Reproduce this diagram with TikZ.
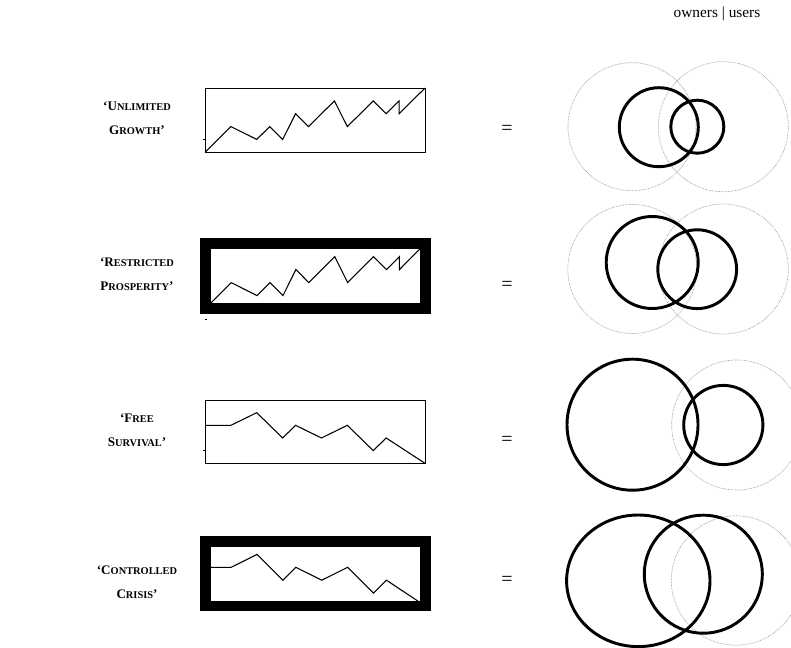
\documentclass[tikz,border=0pt]{standalone}
\usepackage{fontspec}
\setmainfont{Liberation Serif}
\usetikzlibrary{positioning}
\newcommand{\initial}[1]{{\fontsize{9.8}{12}\selectfont #1}}
\newcommand{\growthline}{\draw[chartline] (0,0) -- (2,2) -- (4,1) -- (5,2) -- (6,1) -- (7,3) -- (8,2)
  -- (10,4) -- (11,2) -- (13,4) -- (14,3) -- (15,4) -- (15,3) -- (17,5);}
\newcommand{\declineline}{\draw[chartline] (0,3) -- (2,3) -- (4,4) -- (6,2) -- (7,3) -- (9,2)
  -- (11,3) -- (13,1) -- (14,2) -- (17,0);}

\begin{document}
\begin{tikzpicture}[x=0.75pt,y=-0.75pt,
  rowlabel/.style={align=center,font=\bfseries\fontsize{7.8}{18}\selectfont},
  equals/.style={font=\fontsize{15}{16}\selectfont},
  chartline/.style={line width=0.8pt},
  openbox/.style={draw,line width=0.6pt},
  closedbox/.style={draw,line width=7.9pt},
  tick/.style={line width=0.8pt},
  owners/.style={line width=2.2pt},
  ghost/.style={draw=gray!75,line width=0.5pt,dash pattern=on 0.5pt off 0.6pt}]
\useasboundingbox (0,0) rectangle (791,648);

% heading over the circles
\node[font=\fontsize{11.5}{13}\selectfont] (head) at (717,14) {owners | users};

% the four scenarios
\node[rowlabel] (growth) at (137,118) {\initial{‘U}NLIMITED\\\initial{G}ROWTH\initial{’}};
\node[rowlabel] (prosper) at (137,274) {\initial{‘R}ESTRICTED\\\initial{P}ROSPERITY\initial{’}};
\node[rowlabel] (survive) at (137,430) {\initial{‘F}REE\\\initial{S}URVIVAL\initial{’}};
\node[rowlabel] (crisis) at (137,582) {\initial{‘C}ONTROLLED\\\initial{C}RISIS\initial{’}};

% charts
\begin{scope}[shift={(205,152.3)},xscale=12.94,yscale=-12.85]
  \growthline
  \draw[openbox] (0,0) rectangle (17,5);
  \draw[tick] (-0.15,1) -- (0,1);
\end{scope}
\begin{scope}[shift={(205.3,308.6)},xscale=12.94,yscale=-13]
  \growthline
  \draw[closedbox] (0,0) rectangle (17,5);
  \draw[tick] (0,-0.85) -- (0.1,-0.85);
\end{scope}
\begin{scope}[shift={(205,463.3)},xscale=12.94,yscale=-12.66]
  \declineline
  \draw[openbox] (0,0) rectangle (17,5);
  \draw[tick] (-0.15,1) -- (0,1);
\end{scope}
\begin{scope}[shift={(205.3,606)},xscale=12.94,yscale=-12.9]
  \declineline
  \draw[closedbox] (0,0) rectangle (17,5);
\end{scope}

% equals signs
\foreach \y/\n in {130/eqa,286/eqb,441/eqc,581/eqd}
  \node[equals] (\n) at (507,\y) {=};

% owners and users
\draw[ghost] (632,126.7) circle [radius=64];
\draw[ghost] (723.3,126.7) circle [radius=65];
\draw[owners] (658.8,127.2) circle [radius=39.5];
\draw[owners] (697.3,126.7) circle [radius=26.5];

\draw[ghost] (632.3,269) circle [radius=64.5];
\draw[ghost] (723.3,269) circle [radius=65];
\draw[owners] (652.2,262.5) circle [radius=46];
\draw[owners] (697.2,269.2) circle [radius=39.4];

\draw[ghost] (736.7,425) circle [radius=65];
\draw[owners] (632.5,424.7) circle [radius=65.5];
\draw[owners] (723.3,425) circle [radius=39.6];

\draw[ghost] (736,580.5) circle [radius=64.7];
\draw[owners] (638.3,580.8) ellipse [x radius=71.7,y radius=65.8];
\draw[owners] (703.3,574.2) circle [radius=59];
\end{tikzpicture}
\end{document}
